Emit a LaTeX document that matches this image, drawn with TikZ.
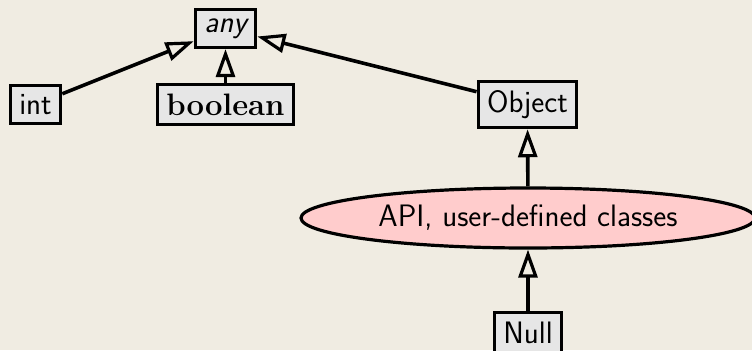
\documentclass[tikz,border=0pt]{standalone}
\usetikzlibrary{arrows.meta,shapes.geometric}
\definecolor{bgc}{RGB}{240,236,226}
\definecolor{boxc}{RGB}{230,230,230}
\definecolor{ellc}{RGB}{255,204,204}
\begin{document}
\begin{tikzpicture}[x=0.5pt,y=-0.5pt,
  every node/.style={font=\fontsize{15.5}{18}\selectfont\sffamily},
  tbox/.style={draw,line width=1.6pt,fill=boxc,inner xsep=4.5pt,inner ysep=4.5pt},
  ell/.style={draw,line width=1.6pt,fill=ellc,ellipse,minimum width=227pt,minimum height=30pt,inner sep=0pt},
  inh/.style={line width=1.8pt,-{Triangle[open,length=14pt,width=9.5pt,line width=1.6pt]}}]
\fill[bgc] (0,0) rectangle (752,350);
\useasboundingbox (0,0) rectangle (752,350);
\node[tbox] (any) at (225.5,28.5) {\itshape any};
\node[tbox] (int) at (35.5,104.5) {int};
\node[tbox] (bool) at (225.5,104.5) {\rmfamily\bfseries boolean};
\node[tbox] (obj) at (527.5,104.5) {Object};
\node[ell] (api) at (528,218) {API, user-defined classes};
\node[tbox,anchor=north] (null) at (528,311) {Null};
\draw[inh] (int) -- (any);
\draw[inh] (bool) -- (any);
\draw[inh] (obj) -- (any);
\draw[inh] (api) -- (obj);
\draw[inh] (null) -- (api);
\end{tikzpicture}
\end{document}
